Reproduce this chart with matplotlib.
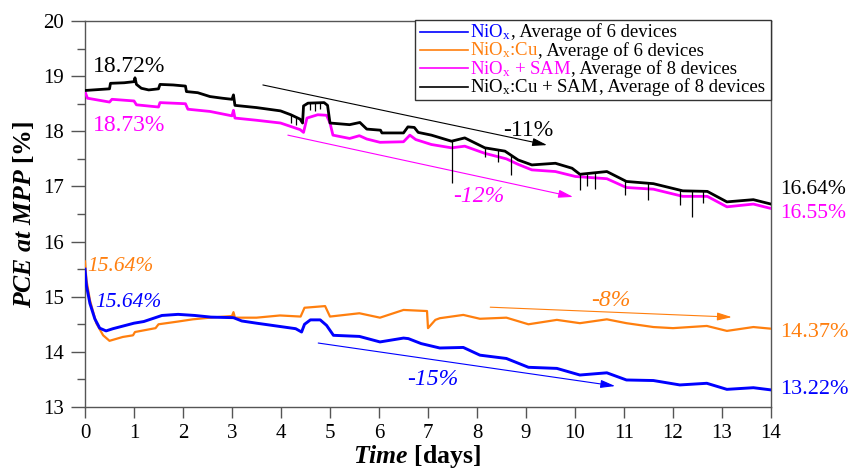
import matplotlib
matplotlib.use('Agg')
import matplotlib.pyplot as plt
import numpy as np
from matplotlib.ticker import MultipleLocator
from matplotlib.patches import Rectangle

# ---------------- data ----------------
black_t = [0.0, 0.5, 0.52, 0.8, 1.0, 1.02, 1.05, 1.15, 1.3, 1.5, 1.53, 1.8, 2.05, 2.07, 2.3, 2.55,
           2.8, 3.0, 3.03, 3.06, 3.5, 3.99, 4.2, 4.39, 4.44, 4.46, 4.55, 4.88, 4.95, 5.0, 5.4, 5.61,
           5.75, 6.03, 6.06, 6.5, 6.59, 6.72, 6.8, 7.07, 7.48, 7.75, 8.16, 8.57, 8.84, 9.12, 9.6,
           9.94, 10.1, 10.65, 11.05, 11.6, 12.2, 12.7, 13.1, 13.64, 14.0]
black_v = [18.74, 18.77, 18.87, 18.88, 18.9, 18.97, 18.85, 18.78, 18.75, 18.77, 18.85, 18.84, 18.82,
           18.72, 18.70, 18.63, 18.6, 18.58, 18.66, 18.47, 18.43, 18.37, 18.3, 18.22, 18.15, 18.46,
           18.51, 18.52, 18.47, 18.15, 18.12, 18.16, 18.04, 18.02, 17.97, 17.97, 18.08, 18.07, 17.98,
           17.93, 17.82, 17.88, 17.70, 17.64, 17.48, 17.39, 17.42, 17.33, 17.22, 17.27, 17.09, 17.05,
           16.92, 16.91, 16.72, 16.76, 16.68]

magenta_t = [0.0, 0.05, 0.5, 0.55, 1.0, 1.05, 1.5, 1.53, 2.05, 2.1, 2.55, 3.0, 3.03, 3.06, 3.5, 3.99,
             4.39, 4.46, 4.53, 4.75, 4.93, 5.0, 5.06, 5.4, 5.6, 5.75, 6.02, 6.5, 6.63, 6.75, 7.07,
             7.48, 7.75, 8.16, 8.6, 8.84, 9.12, 9.6, 10.01, 10.65, 11.05, 11.6, 12.2, 12.7, 13.1,
             13.64, 14.0]
magenta_v = [18.72, 18.6, 18.53, 18.58, 18.55, 18.48, 18.44, 18.52, 18.50, 18.40, 18.36, 18.28, 18.38,
             18.24, 18.2, 18.15, 18.03, 17.98, 18.24, 18.3, 18.29, 18.15, 17.93, 17.87, 17.92, 17.86,
             17.8, 17.81, 17.93, 17.85, 17.76, 17.7, 17.73, 17.6, 17.5, 17.4, 17.3, 17.27, 17.18,
             17.14, 16.98, 16.95, 16.82, 16.82, 16.63, 16.68, 16.6]

blue_t = [0.0, 0.03, 0.1, 0.2, 0.3, 0.43, 0.57, 1.0, 1.2, 1.57, 1.9, 2.24, 2.57, 3.03, 3.2, 3.5, 3.98,
          4.3, 4.42, 4.48, 4.6, 4.8, 4.93, 5.07, 5.6, 6.02, 6.5, 6.6, 6.86, 7.24, 7.72, 8.06, 8.6,
          9.05, 9.63, 10.1, 10.65, 11.05, 11.6, 12.14, 12.69, 13.1, 13.64, 14.0]
blue_v = [15.5, 15.2, 14.88, 14.6, 14.43, 14.38, 14.42, 14.52, 14.55, 14.66, 14.68, 14.66, 14.63,
          14.62, 14.56, 14.52, 14.46, 14.42, 14.36, 14.5, 14.58, 14.58, 14.48, 14.3, 14.28, 14.18,
          14.25, 14.24, 14.15, 14.07, 14.08, 13.94, 13.88, 13.72, 13.70, 13.58, 13.62, 13.49, 13.48,
          13.4, 13.43, 13.32, 13.35, 13.31]

orange_t = [0.0, 0.03, 0.1, 0.23, 0.37, 0.5, 0.77, 0.98, 1.02, 1.44, 1.5, 1.9, 2.2, 2.55, 3.0, 3.03,
            3.06, 3.5, 3.98, 4.4, 4.48, 4.9, 5.0, 5.6, 6.02, 6.5, 6.98, 7.0, 7.15, 7.24, 7.72, 8.06,
            8.6, 9.05, 9.63, 10.1, 10.65, 11.05, 11.6, 12.0, 12.69, 13.1, 13.64, 14.0]
orange_v = [15.64, 15.3, 14.94, 14.52, 14.3, 14.2, 14.27, 14.3, 14.36, 14.43, 14.5, 14.55, 14.59,
            14.62, 14.65, 14.72, 14.62, 14.62, 14.66, 14.64, 14.8, 14.83, 14.64, 14.7, 14.62, 14.76,
            14.74, 14.43, 14.58, 14.61, 14.67, 14.6, 14.62, 14.5, 14.58, 14.52, 14.59, 14.52, 14.45,
            14.43, 14.47, 14.38, 14.45, 14.42]

# downward spikes on the NiOx:Cu + SAM trace (time, minimum value)
black_spike_t = [4.2, 4.3, 4.6, 4.7, 4.8, 7.48, 8.16, 8.43, 8.7, 10.1, 10.25, 10.4, 11.02, 11.5, 12.14, 12.38, 12.62]
black_spike_v = [18.15, 18.12, 18.38, 18.36, 18.4, 17.06, 17.54, 17.45, 17.2, 16.94, 17.0, 16.96, 16.84, 16.75, 16.66, 16.45, 16.7]

legend_colored = ['NiO$_\\mathrm{x}$', 'NiO$_\\mathrm{x}$:Cu', 'NiO$_\\mathrm{x}$ + SAM', 'NiO$_\\mathrm{x}$:Cu + SAM']
legend_rest = [', Average of 6 devices', ', Average of 6 devices', ', Average of 8 devices', ', Average of 8 devices']

start_labels = ['18.72%', '18.73%', '15.64%', '15.64%']
end_labels = ['16.64%', '16.55%', '14.37%', '13.22%']
change_labels = ['-11%', '-12%', '-8%', '-15%']

x_ticks = list(range(0, 15))
y_ticks = list(range(13, 21))

# ---------------- style ----------------
plt.rcParams['font.family'] = ['Liberation Serif', 'DejaVu Serif']
plt.rcParams['mathtext.fontset'] = 'custom'
plt.rcParams['mathtext.rm'] = 'Liberation Serif'
plt.rcParams['mathtext.it'] = 'Liberation Serif:italic:bold'
plt.rcParams['mathtext.bf'] = 'Liberation Serif:bold'

C_BLUE = '#0000FF'
C_ORANGE = '#FF7F0E'
C_MAG = '#FF00FF'
C_BLACK = '#000000'
AX_COL = '#555555'

fig = plt.figure(figsize=(8.53, 4.70), dpi=100)
ax = fig.add_axes([85 / 853, 1 - 407 / 470, 686 / 853, 386 / 470])

ax.plot(orange_t, orange_v, color=C_ORANGE, lw=1.6, zorder=3)
ax.plot(blue_t, blue_v, color=C_BLUE, lw=2.1, zorder=4)
ax.plot(magenta_t, magenta_v, color=C_MAG, lw=2.0, zorder=3)
ax.plot(black_t, black_v, color=C_BLACK, lw=2.0, zorder=4)
base = np.interp(black_spike_t, black_t, black_v)
ax.vlines(black_spike_t, black_spike_v, base, color=C_BLACK, lw=0.9, zorder=4)

ax.set_xlim(0, 14)
ax.set_ylim(13, 20)
ax.set_xticks(x_ticks)
ax.set_yticks(y_ticks)
ax.yaxis.set_minor_locator(MultipleLocator(0.5))
ax.tick_params(axis='both', which='both', direction='out', colors=AX_COL, labelcolor='black',
               labelsize=15)
ax.tick_params(axis='y', which='major', length=10, width=1, pad=5)
ax.tick_params(axis='y', which='minor', length=6, width=1)
ax.tick_params(axis='x', which='major', length=8, width=1, pad=4)
for s in ax.spines.values():
    s.set_color(AX_COL)
    s.set_linewidth(1.0)

ax.set_xlabel(r'$\mathit{Time}$ [days]', fontsize=18.5, fontweight='bold')
ax.set_ylabel(r'$\mathit{PCE\ at\ MPP}$ [%]', fontsize=18.5, fontweight='bold')
ax.xaxis.set_label_coords((417 - 85) / 686, -(443 - 407) / 386)
ax.yaxis.set_label_coords((36 - 85) / 686, 0.5)

# start / end value labels
ax.text(0.16, 19.17, start_labels[0], color=C_BLACK, fontsize=17, ha='left', va='center')
ax.text(0.16, 18.11, start_labels[1], color=C_MAG, fontsize=17, ha='left', va='center')
ax.text(0.04, 15.54, start_labels[2], color=C_ORANGE, fontsize=15.5, style='italic', ha='left', va='center')
ax.text(0.20, 14.90, start_labels[3], color=C_BLUE, fontsize=15.5, style='italic', ha='left', va='center')

ax.text(14.18, 16.95, end_labels[0], color=C_BLACK, fontsize=15.5, ha='left', va='center', clip_on=False)
ax.text(14.18, 16.50, end_labels[1], color=C_MAG, fontsize=15.5, ha='left', va='center', clip_on=False)
ax.text(14.18, 14.36, end_labels[2], color=C_ORANGE, fontsize=16, ha='left', va='center', clip_on=False)
ax.text(14.18, 13.31, end_labels[3], color=C_BLUE, fontsize=16, ha='left', va='center', clip_on=False)

# trend arrows
arrows = [((3.63, 18.84), (9.43, 17.75), C_BLACK),
          ((4.14, 17.93), (9.96, 16.81), C_MAG),
          ((8.27, 14.81), (13.2, 14.63), C_ORANGE),
          ((4.76, 14.16), (10.82, 13.38), C_BLUE)]
for (s, e, c) in arrows:
    ax.annotate('', xy=e, xytext=s,
                arrowprops=dict(arrowstyle='-|>,head_length=0.8,head_width=0.22', color=c,
                                lw=0.8, mutation_scale=11, shrinkA=0, shrinkB=0))
ax.text(9.04, 18.02, change_labels[0], color=C_BLACK, fontsize=17, ha='center', va='center')
ax.text(8.04, 16.81, change_labels[1], color=C_MAG, fontsize=17, style='italic', ha='center', va='center')
ax.text(10.73, 14.94, change_labels[2], color=C_ORANGE, fontsize=17, style='italic', ha='center', va='center')
ax.text(7.10, 13.49, change_labels[3], color=C_BLUE, fontsize=17, style='italic', ha='center', va='center')

# ---------------- manual legend (two-colour labels) ----------------
def ay(py):
    return 1 - (py - 21) / 386

def axx(px):
    return (px - 85) / 686

box = Rectangle((axx(415), ay(100)), axx(771) - axx(415), ay(20) - ay(100), transform=ax.transAxes,
                facecolor='white', edgecolor='#333333', lw=1.0, zorder=6, clip_on=False)
ax.add_patch(box)
row_py = [31.7, 50.0, 68.3, 86.7]
cols = [C_BLUE, C_ORANGE, C_MAG, C_BLACK]
fig.canvas.draw()
renderer = fig.canvas.get_renderer()
for i in range(4):
    yc = ay(row_py[i])
    yb = ay(row_py[i] + 5.5)
    ax.plot([axx(420), axx(468)], [yc, yc], color=cols[i], lw=1.2, transform=ax.transAxes,
            zorder=7, clip_on=False)
    t1 = ax.text(axx(470), yb, legend_colored[i], color=cols[i], fontsize=13.5, ha='left',
                 va='baseline', transform=ax.transAxes, zorder=7)
    bb = t1.get_window_extent(renderer)
    x1 = ax.transAxes.inverted().transform((bb.x1, bb.y0))[0]
    ax.text(x1, yb, legend_rest[i], color='black', fontsize=13.5, ha='left', va='baseline',
            transform=ax.transAxes, zorder=7)

fig.savefig('out.png', dpi=100)
